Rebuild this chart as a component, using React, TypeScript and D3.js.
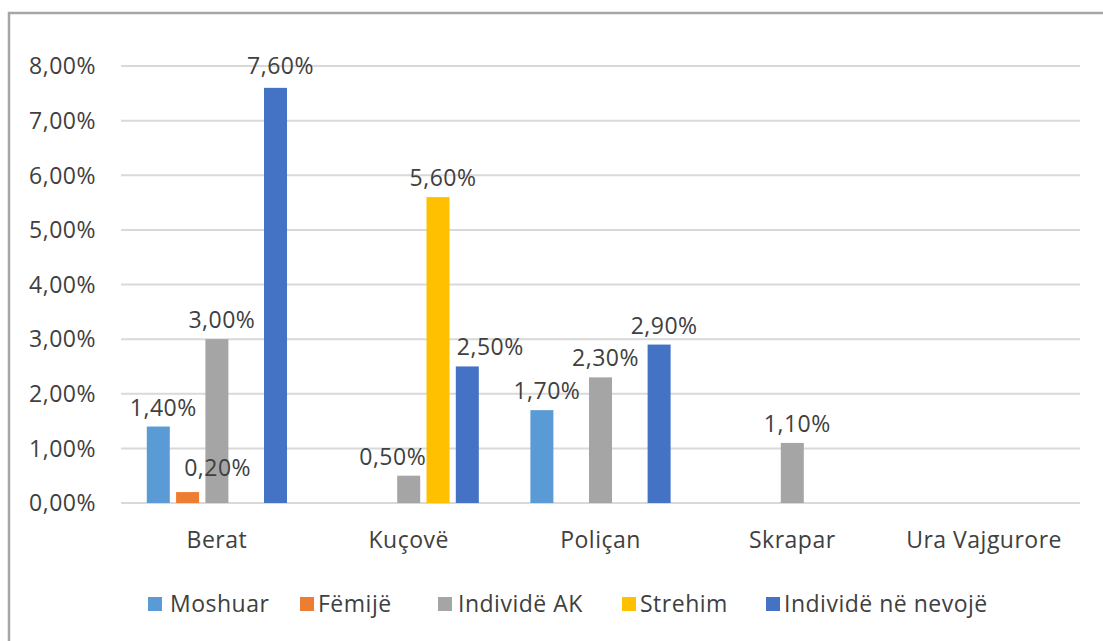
import React from "react";
import * as d3 from "d3";

const categories = ["Berat", "Kuçovë", "Poliçan", "Skrapar", "Ura Vajgurore"];
const seriesNames = ["Moshuar", "Fëmijë", "Individë AK", "Strehim", "Individë në nevojë"];
const seriesColors = ["#5B9BD5", "#ED7D31", "#A5A5A5", "#FFC000", "#4472C4"];
// values in % per series, ordered by category (null = no bar)
const moshuar = [1.4, null, 1.7, null, null];
const femije = [0.2, null, null, null, null];
const individeAK = [3.0, 0.5, 2.3, 1.1, null];
const strehim = [null, 5.6, null, null, null];
const individeNeNevoje = [7.6, 2.5, 2.9, null, null];
const seriesValues = [moshuar, femije, individeAK, strehim, individeNeNevoje];
const yTicks = [0, 1, 2, 3, 4, 5, 6, 7, 8];

const W = 1103;
const H = 641;
const FONT = "'Open Sans', sans-serif";
const TEXT = "#404040";
const FS = 23;
const LS = 0.5;

const fmt = (v: number) => v.toFixed(2).replace(".", ",") + "%";

export default function App() {
  const x0 = d3.scaleBand<string>().domain(categories).range([121, 1080]).padding(0);
  const x1 = d3
    .scaleBand<string>()
    .domain(seriesNames)
    .range([0, x0.bandwidth()])
    .paddingInner(0.215)
    .paddingOuter(0.88);
  const y = d3.scaleLinear().domain([0, 8]).range([503, 66]);

  // label nudges (Excel overlap avoidance)
  const labelDx = (ci: number, si: number) => {
    if (ci === 0 && si === 1) return 30;
    if (ci === 1 && si === 2) return -16;
    if (ci === 1 && si === 4) return 23;
    return 5;
  };
  const labelDy = (ci: number, si: number) => {
    if (ci === 0 && si === 1) return 16;
    if (ci === 0 && si === 4) return 14;
    return 11;
  };

  const legendItems = [
    { sx: 148, tx: 170 },
    { sx: 300, tx: 318 },
    { sx: 438, tx: 458 },
    { sx: 622, tx: 640 },
    { sx: 766, tx: 784 },
  ];

  return (
    <svg
      width={W}
      height={H}
      style={{ position: "absolute", left: 0, top: 0, background: "#fff" }}
      fontFamily={FONT}
      letterSpacing={LS}
    >
      <rect x={9} y={13} width={W + 10} height={H + 10} fill="#fff" stroke="#A6A6A6" strokeWidth={2.5} />
      {yTicks.map((t) => (
        <g key={t}>
          <line x1={121} x2={1080} y1={y(t)} y2={y(t)} stroke="#D9D9D9" strokeWidth={2} />
          <text x={96} y={y(t)} dy="0.36em" textAnchor="end" fontSize={FS} fill={TEXT}>
            {fmt(t)}
          </text>
        </g>
      ))}
      {categories.map((c, ci) => (
        <g key={c}>
          {seriesValues.map((vals, si) => {
            const v = vals[ci];
            if (v == null) return null;
            const bx = (x0(c) as number) + (x1(seriesNames[si]) as number);
            const bw = x1.bandwidth();
            return (
              <rect
                key={si}
                x={bx}
                y={y(v)}
                width={bw}
                height={y(0) - y(v)}
                fill={seriesColors[si]}
              />
            );
          })}
          <text
            x={(x0(c) as number) + x0.bandwidth() / 2}
            y={548}
            textAnchor="middle"
            fontSize={FS}
            fill={TEXT}
          >
            {c}
          </text>
        </g>
      ))}
      {categories.map((c, ci) =>
        seriesValues.map((vals, si) => {
          const v = vals[ci];
          if (v == null) return null;
          const bx = (x0(c) as number) + (x1(seriesNames[si]) as number);
          const bw = x1.bandwidth();
          return (
            <text
              key={c + si}
              x={bx + bw / 2 + labelDx(ci, si)}
              y={y(v) - labelDy(ci, si)}
              textAnchor="middle"
              fontSize={FS}
              fill={TEXT}
            >
              {fmt(v)}
            </text>
          );
        })
      )}
      {seriesNames.map((s, i) => (
        <g key={s}>
          <rect x={legendItems[i].sx} y={597} width={14} height={14} fill={seriesColors[i]} />
          <text x={legendItems[i].tx} y={612} fontSize={FS} fill={TEXT}>
            {s}
          </text>
        </g>
      ))}
    </svg>
  );
}
